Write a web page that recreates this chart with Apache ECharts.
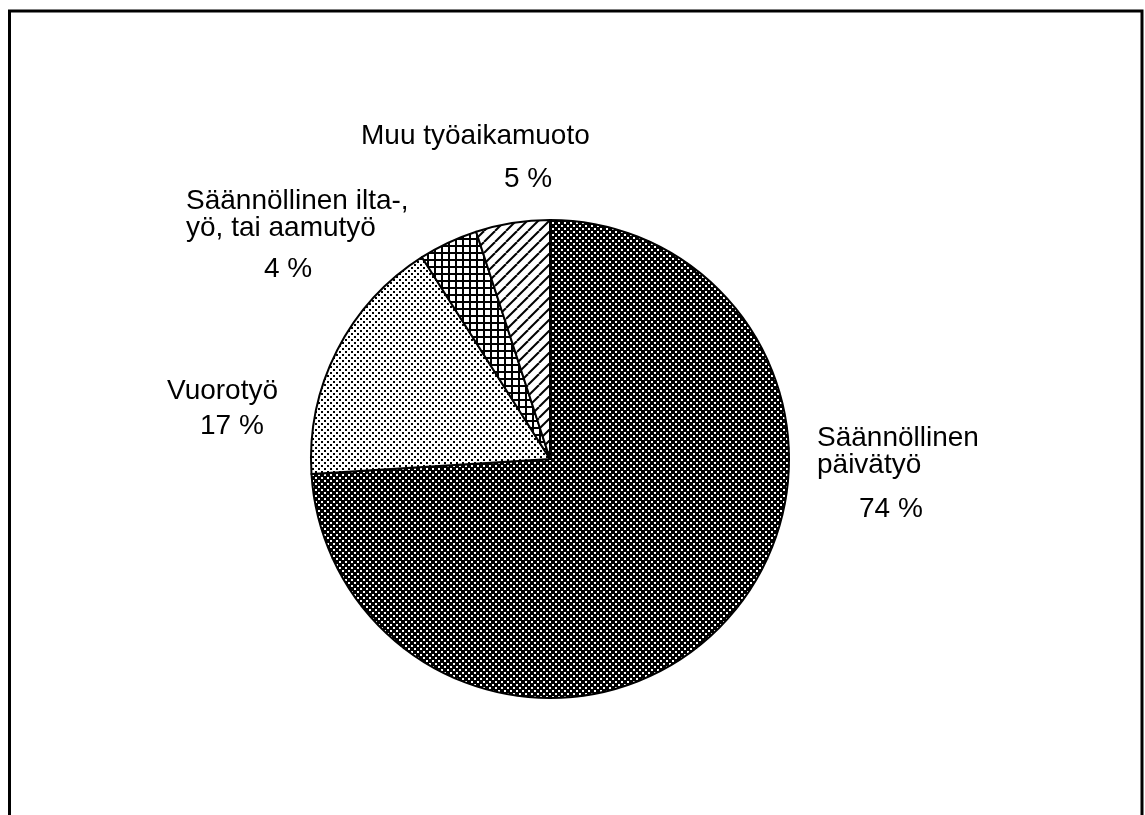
<!DOCTYPE html>
<html>
<head>
<meta charset="utf-8">
<script src="https://cdn.jsdelivr.net/npm/echarts@6/dist/echarts.min.js"></script>
<style>
html,body{margin:0;padding:0;background:#fff;}
#c{width:1145px;height:815px;}
</style>
</head>
<body>
<div id="c"></div>
<script>
// ---- data ----
var categories = ['Säännöllinen\npäivätyö', 'Vuorotyö', 'Säännöllinen ilta-,\nyö, tai aamutyö', 'Muu työaikamuoto'];
var values = [74, 17, 4, 5];
var patterns = ['dark', 'light', 'cross', 'hatch'];

// ---- label layout (top-left of each label, percent-line indent and gap) ----
var labelPos = [[817, 425], [167, 378], [186, 188], [361, 123]];
var pctIndent = [42, 33, 78, 143];
var pctBoxH = [61, 43, 55, 59];

function makePattern(kind) {
  var c = document.createElement('canvas');
  var ctx = c.getContext('2d');
  var s;
  if (kind === 'dark') {
    s = 6; c.width = s; c.height = s;
    ctx.fillStyle = '#000'; ctx.fillRect(0, 0, s, s);
    ctx.fillStyle = '#fff'; ctx.fillRect(0, 0, 2, 2); ctx.fillRect(3, 3, 2, 2);
  } else if (kind === 'light') {
    s = 6; c.width = s; c.height = s;
    ctx.fillStyle = '#fff'; ctx.fillRect(0, 0, s, s);
    ctx.fillStyle = '#000'; ctx.fillRect(0, 0, 2, 2); ctx.fillRect(3, 3, 2, 2);
  } else if (kind === 'cross') {
    s = 7; c.width = s; c.height = s;
    ctx.fillStyle = '#fff'; ctx.fillRect(0, 0, s, s);
    ctx.fillStyle = '#000'; ctx.fillRect(0, 0, s, 2); ctx.fillRect(0, 0, 2, s);
  } else {
    s = 11; c.width = s; c.height = s;
    ctx.fillStyle = '#fff'; ctx.fillRect(0, 0, s, s);
    ctx.strokeStyle = '#000'; ctx.lineWidth = 2;
    for (var k = -1; k <= 1; k++) {
      ctx.beginPath(); ctx.moveTo(k * s, s); ctx.lineTo(k * s + s, 0); ctx.stroke();
    }
  }
  return { image: c, repeat: 'repeat' };
}

var rich = { n: { fontSize: 28, lineHeight: 27, color: '#000', fontFamily: 'Liberation Sans' } };
values.forEach(function (v, i) {
  rich['p' + i] = { fontSize: 28, lineHeight: pctBoxH[i], color: '#000', fontFamily: 'Liberation Sans', padding: [0, 0, 0, pctIndent[i]] };
});

var data = values.map(function (v, i) {
  return { name: categories[i], value: v, itemStyle: { color: makePattern(patterns[i]) } };
});

var chart = echarts.init(document.getElementById('c'), null, { renderer: 'canvas' });
chart.setOption({
  animation: false,
  backgroundColor: '#fff',
  graphic: [{
    type: 'rect',
    shape: { x: 9.5, y: 11, width: 1132.5, height: 900 },
    style: { fill: 'none', stroke: '#000', lineWidth: 3 },
    silent: true
  }],
  series: [{
    type: 'pie',
    center: [550, 459],
    radius: 239,
    startAngle: 90,
    clockwise: true,
    silent: true,
    data: data,
    itemStyle: { borderColor: '#000', borderWidth: 2 },
    labelLine: { show: false },
    label: {
      show: true,
      position: 'outside',
      align: 'left',
      formatter: function (p) {
        var lines = p.name.split('\n').map(function (l) { return '{n|' + l + '}'; });
        lines.push('{p' + p.dataIndex + '|' + p.value + ' %}');
        return lines.join('\n');
      },
      rich: rich
    },
    labelLayout: function (params) {
      var pos = labelPos[params.dataIndex];
      return { x: pos[0], y: pos[1], align: 'left', verticalAlign: 'top', hideOverlap: false, moveOverlap: null };
    }
  }]
});
</script>
</body>
</html>
